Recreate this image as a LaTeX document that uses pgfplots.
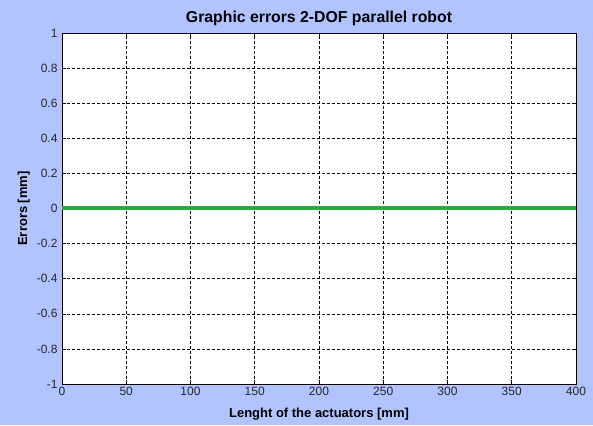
\documentclass[border=0pt]{standalone}
\usepackage{pgfplots}
\pgfplotsset{compat=1.18}
\usetikzlibrary{backgrounds}
\usepackage{fontspec}
\setmainfont{Liberation Sans}
\definecolor{bgblue}{RGB}{178,196,255}
\definecolor{lgreen}{RGB}{40,170,60}
\begin{document}
\begin{tikzpicture}
\begin{axis}[
  name=ax,
  scale only axis, width=514pt, height=351pt,
  xmin=0, xmax=400, ymin=-1, ymax=1,
  xtick={0,50,...,400},
  ytick={-1,-0.8,-0.6,-0.4,-0.2,0,0.2,0.4,0.6,0.8,1},
  yticklabels={-1,-0.8,-0.6,-0.4,-0.2,0,0.2,0.4,0.6,0.8,1},
  xticklabels={0,50,100,150,200,250,300,350,400},
  axis background/.style={fill=white},
  grid=major,
  major grid style={black, line width=0.6pt, dash pattern=on 3pt off 2pt},
  tick style={black, line width=0.6pt},
  tick align=inside,
  major tick length=4pt,
  axis line style={black, line width=0.8pt},
  ticklabel style={font=\fontsize{12}{14}\selectfont, text=black!85},
  yticklabel style={xshift=-1pt},
  title={\textbf{Graphic errors 2-DOF parallel robot}},
  title style={font=\fontsize{15.8}{18}\selectfont, yshift=-2pt},
  xlabel={\textbf{Lenght of the actuators [mm]}},
  ylabel={\textbf{Errors [mm]}},
  label style={font=\fontsize{13}{15}\selectfont},
  xlabel style={yshift=-5pt},
  ylabel style={yshift=0pt},
]
\addplot[lgreen, line width=4pt] coordinates {(0,0) (100,0) (200,0) (300,0) (400,0)};
\end{axis}
\begin{scope}[on background layer]
\fill[bgblue] ([shift={(-62pt,-41pt)}]ax.south west) rectangle ([shift={(17pt,33pt)}]ax.north east);
\end{scope}
\useasboundingbox ([shift={(-62pt,-41pt)}]ax.south west) rectangle ([shift={(17pt,33pt)}]ax.north east);
\end{tikzpicture}
\end{document}
